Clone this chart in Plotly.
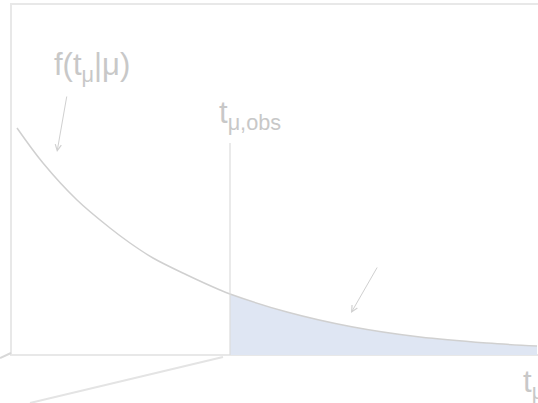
import plotly.graph_objects as go

# Curve: t (horizontal) and f(t|mu) (vertical)
t_vals = [0.06, 0.32, 0.66, 0.99, 1.19, 1.42, 1.76, 2.09, 2.19, 2.76, 3.42, 4.09, 4.76, 5.26]
f_vals = [2.27, 1.92, 1.55, 1.27, 1.12, 0.97, 0.80, 0.65, 0.61, 0.43, 0.28, 0.18, 0.12, 0.09]
t_obs = 2.19

label_pdf = "f(t<sub>μ</sub>|μ)"
label_obs = "t<sub>μ,obs</sub>"
label_axis = "t<sub>μ</sub>"

GREY_TXT = "#c8c8c8"
GREY_LINE = "#d0d0d0"
FRAME = "#e8e8e8"
FILL = "#dfe6f3"

tail_t = [t for t in t_vals if t >= t_obs]
tail_f = [f for t, f in zip(t_vals, f_vals) if t >= t_obs]

fig = go.Figure()
fig.add_trace(go.Scatter(x=tail_t, y=tail_f, mode="lines", fill="tozeroy",
                         fillcolor=FILL, line=dict(width=0, shape="spline"),
                         hoverinfo="skip", showlegend=False))
fig.add_trace(go.Scatter(x=t_vals, y=f_vals, mode="lines",
                         line=dict(color=GREY_LINE, width=1.5, shape="spline"),
                         hoverinfo="skip", showlegend=False))

# frame of the sketch
fig.add_shape(type="rect", x0=0, x1=5.5, y0=0, y1=3.51,
              line=dict(color=FRAME, width=2), layer="below")
# observed value line
fig.add_shape(type="line", x0=t_obs, x1=t_obs, y0=0, y1=2.12,
              line=dict(color="#dcdcdc", width=1.2))
# perspective lines
fig.add_shape(type="line", x0=2.12, y0=-0.02, x1=0.19, y1=-0.48,
              line=dict(color="#e4e4e4", width=2))
fig.add_shape(type="line", x0=0.0, y0=0.02, x1=-0.11, y1=-0.03,
              line=dict(color="#d8d8d8", width=2))

# arrows
fig.add_annotation(x=0.46, y=2.03, ax=0.56, ay=2.60, xref="x", yref="y",
                   axref="x", ayref="y", showarrow=True, arrowhead=5,
                   arrowsize=1.2, arrowwidth=1, arrowcolor="#d0d0d0", text="")
fig.add_annotation(x=3.40, y=0.42, ax=3.67, ay=0.89, xref="x", yref="y",
                   axref="x", ayref="y", showarrow=True, arrowhead=5,
                   arrowsize=1.2, arrowwidth=1, arrowcolor="#d0d0d0", text="")

font = dict(family="Liberation Sans, Arial, sans-serif", size=31, color=GREY_TXT)
fig.add_annotation(x=0.41, y=2.88, text=label_pdf, showarrow=False,
                   xanchor="left", yanchor="middle", font=font)
fig.add_annotation(x=2.06, y=2.40, text=label_obs, showarrow=False,
                   xanchor="left", yanchor="middle", font=font)
fig.add_annotation(x=5.10, y=-0.29, text=label_axis, showarrow=False,
                   xanchor="left", yanchor="middle", font=font)

fig.update_layout(
    width=538, height=403,
    margin=dict(l=0, r=0, t=0, b=0),
    paper_bgcolor="white", plot_bgcolor="white",
    xaxis=dict(range=[-0.11, 5.27], visible=False, fixedrange=True),
    yaxis=dict(range=[-0.48, 3.55], visible=False, fixedrange=True),
    showlegend=False,
)

fig.write_html("out.html", config={"displayModeBar": False},
               post_script="document.body.style.margin='0';document.body.style.overflow='hidden';")
